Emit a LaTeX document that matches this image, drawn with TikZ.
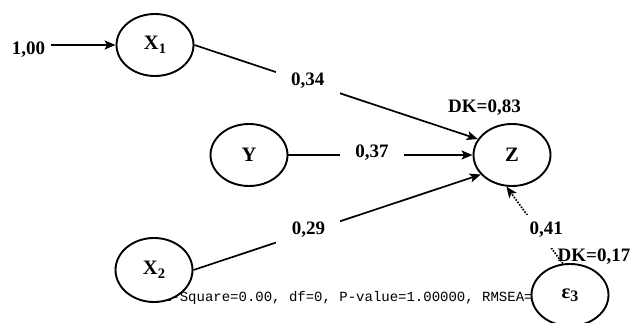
\documentclass[tikz,border=0pt]{standalone}
\usepackage{fontspec}
\setmainfont{Liberation Serif}
\newfontfamily\chifont{Liberation Mono}
\usetikzlibrary{shapes.geometric,arrows.meta}
\begin{document}
\begin{tikzpicture}[x=1pt,y=-1pt,
  latent/.style={ellipse, draw, line width=1.9pt, fill=white, minimum width=77pt, minimum height=62pt, inner sep=0pt, font=\fontsize{20.5}{20.5}\selectfont\bfseries},
  coef/.style={font=\fontsize{19}{19}\selectfont\bfseries, inner sep=0pt},
  lbl/.style={coef, fill=white, minimum width=64pt, minimum height=33pt, text height=12.5pt, text depth=6.5pt},
  arrowline/.style={line width=1.7pt, -{Stealth[length=11pt,width=9pt,inset=2.5pt]}},
  dotline/.style={arrowline, dash pattern=on 1.6pt off 1.4pt},
]
\useasboundingbox (0,0) rectangle (630,323);
\node[anchor=base west, inner sep=0pt, font=\chifont\fontsize{14}{14}\selectfont] (chi) at (146,302) {Chi-Square=0.00, df=0, P-value=1.00000, RMSEA=};
\node[latent] (X1) at (155,45) {X\raisebox{-4pt}{\fontsize{14.5}{14.5}\selectfont 1}};
\node[latent] (Y) at (249,155) {Y};
\node[latent] (Z) at (512,155) {Z};
\node[latent, minimum height=64pt] (X2) at (154,270) {X\raisebox{-4pt}{\fontsize{14.5}{14.5}\selectfont 2}};
\node[latent] (E3) at (570,295) {ε\raisebox{-3pt}{\fontsize{16}{16}\selectfont 3}};
\node[coef, anchor=base, inner ysep=0pt, inner xsep=6pt] (one) at (28.5,55) {1,00};
\draw[arrowline] (one.east |- X1.west) -- (X1.west);
\draw[arrowline] (X1.east) -- node[lbl, pos=0.4] {0,34} (Z.155);
\draw[arrowline] (Y.east) -- node[lbl, pos=0.454] {0,37} (Z.west);
\draw[arrowline] (X2.east) -- node[lbl, pos=0.4] {0,29} (Z.212);
\draw[dotline] (E3.103) -- node[lbl, pos=0.417] {\hspace*{14pt}0,41} (Z.260);
\node[coef, anchor=base] (dkz) at (484.5,113) {DK=0,83};
\node[coef, anchor=base] (dke) at (594,262) {DK=0,17};
\end{tikzpicture}
\end{document}
